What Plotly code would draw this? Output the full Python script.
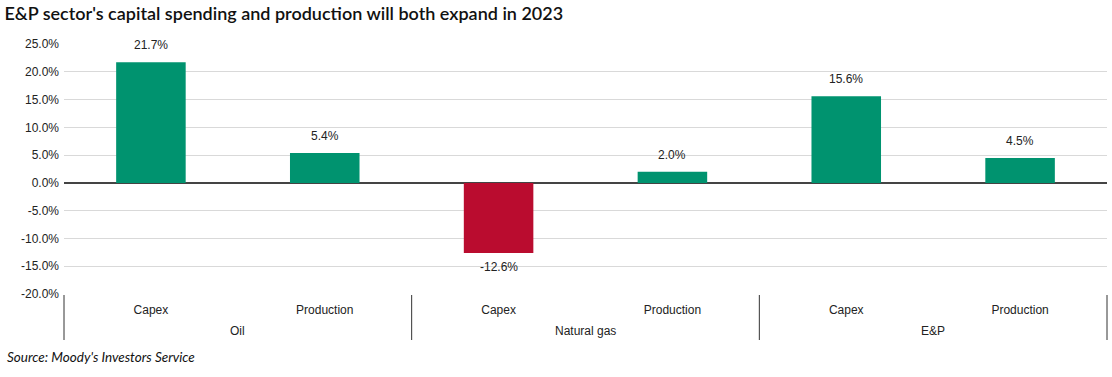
import plotly.graph_objects as go

groups = ["Oil", "Oil", "Natural gas", "Natural gas", "E&P", "E&P"]
metrics = ["Capex", "Production", "Capex", "Production", "Capex", "Production"]
values = [21.7, 5.4, -12.6, 2.0, 15.6, 4.5]
y_ticks = [25, 20, 15, 10, 5, 0, -5, -10, -15, -20]

GREEN = "#00936F"
RED = "#BA0C2F"
colors = [GREEN if v >= 0 else RED for v in values]

idx = list(range(len(values)))
n = len(values)
FONT = "Liberation Sans, Arial, sans-serif"

fig = go.Figure(go.Bar(
    x=idx,
    y=values,
    width=0.4,
    marker=dict(color=colors, line=dict(width=0)),
    cliponaxis=False,
    customdata=groups,
))

annotations = []
# value labels, offset from the bar ends
for i, v in zip(idx, values):
    annotations.append(dict(
        text=f"{v:.1f}%", x=i, y=v, xref="x", yref="y",
        xanchor="center", yanchor="middle", showarrow=False,
        yshift=17 if v >= 0 else -14,
        font=dict(family=FONT, size=12, color="#222"),
    ))

# group labels and dividers derived from the group list
group_names = []
for g in groups:
    if g not in group_names:
        group_names.append(g)

shapes = []
bounds = [0.0]
for g in group_names:
    members = [i for i, gg in enumerate(groups) if gg == g]
    center = (sum(members) / len(members) + 0.5) / n
    annotations.append(dict(
        text=g, xref="paper", yref="paper", x=center, y=-0.148,
        xanchor="center", yanchor="middle", showarrow=False,
        font=dict(family=FONT, size=12, color="#222"),
    ))
    bounds.append((max(members) + 1) / n)
for b in bounds:
    shapes.append(dict(
        type="line", xref="paper", yref="paper", x0=b, x1=b, y0=-0.004, y1=-0.184,
        line=dict(color="#333", width=1),
    ))

annotations.append(dict(
    text="<i>Source: Moody's Investors Service</i>",
    xref="paper", yref="paper", x=-0.0566, xanchor="left",
    y=-0.252, yanchor="middle", showarrow=False,
    font=dict(family="Lato, sans-serif", size=13.5, color="#111"),
))

fig.update_layout(
    width=1112, height=377,
    margin=dict(l=64, r=5, t=44, b=83),
    paper_bgcolor="white", plot_bgcolor="white",
    showlegend=False,
    font=dict(family=FONT, size=12, color="#222"),
    title=dict(
        text="E&P sector's capital spending and production will both expand in 2023",
        x=0.004, xanchor="left", y=0.98, yanchor="top",
        font=dict(family="Lato, sans-serif", size=18, color="#111", weight=600),
    ),
    annotations=annotations,
    shapes=shapes,
)

fig.update_yaxes(
    range=[-20, 25], tickvals=y_ticks, ticktext=[f"{t:.1f}%" for t in y_ticks],
    showgrid=True, gridcolor="#d9d9d9", gridwidth=1,
    zeroline=True, zerolinecolor="#444", zerolinewidth=1.5,
    ticks="", ticklen=0, showline=False, automargin=False,
    tickfont=dict(size=12, color="#222"), ticklabelstandoff=4,
)
fig.update_xaxes(
    range=[-0.5, n - 0.5], tickvals=idx, ticktext=metrics,
    automargin=False, showline=False, ticks="", showgrid=False, zeroline=False,
    tickfont=dict(size=12, color="#222"), ticklabelstandoff=7,
)

fig.write_html("out.html", config={"displayModeBar": False},
               post_script="document.body.style.margin='0';")
